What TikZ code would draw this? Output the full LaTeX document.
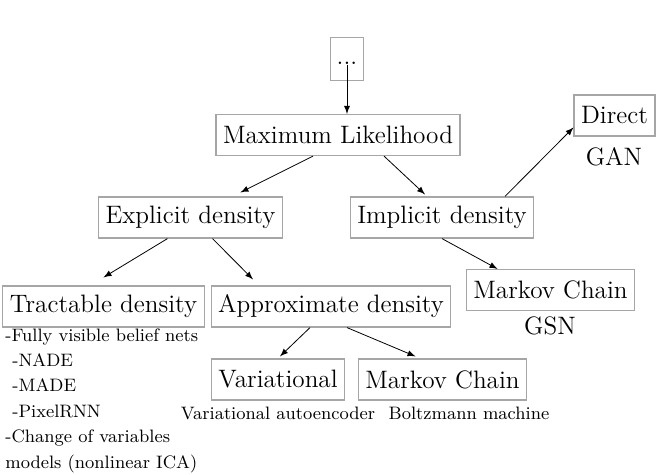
\documentclass[tikz,border=0pt]{standalone}
\usepackage{tikz}
\usetikzlibrary{arrows}
\newcommand{\boxschrift}{\fontsize{12.6}{15}\selectfont}

\begin{document}
\begin{tikzpicture}[
  x=0.5pt, y=-0.5pt,
  > = latex,
  box/.style = {draw=gray!70, line width=0.6pt, font=\boxschrift, minimum height=20.5pt, inner xsep=3.5pt},
  note/.style = {font=\boxschrift, inner sep=0pt},
  smallnote/.style = {font=\small, inner sep=0pt},
  notelist/.style = {font={\small\setlength{\baselineskip}{12.7pt}}, align=left, anchor=north west, inner sep=0pt}
  ]
	\useasboundingbox (0,0) rectangle (661,475);

	\node[box,inner xsep=3.2pt] (dots) at (347,59) {\strut...};
	\node[box] (ml) at (338,135) {Maximum Likelihood};
	\node[box] (explicit) at (190.5,217.5) {Explicit density};
	\node[box] (implicit) at (442,217.5) {Implicit density};
	\node[box] (direct) at (614.5,115.5) {Direct};
	\node[note] (gan) at (614,157) {GAN};
	\node[box] (mcgsn) at (550.5,290) {Markov Chain};
	\node[note] (gsn) at (550,326) {GSN};
	\node[box] (tractable) at (103.5,306.5) {Tractable density};
	\node[box] (approx) at (331,306.5) {Approximate density};
	\node[box] (variational) at (278,379.5) {Variational};
	\node[box] (mcboltz) at (442.5,379.5) {Markov Chain};
	\node[smallnote] (vae) at (278,413) {Variational autoencoder};
	\node[smallnote] (boltz) at (469,413) {Boltzmann machine};
	\node[notelist] (tractlist) at (5,328) {-Fully visible belief nets\\
		\hspace*{3.5pt}-NADE\\
		\hspace*{3.5pt}-MADE\\
		\hspace*{3.5pt}-PixelRNN\\
		-Change of variables\\
		models (nonlinear ICA)};

	\draw[->] (dots.base) -- (dots.base |- ml.north);
	\draw[->] ([xshift=-12.5pt]ml.south) -- ([xshift=25pt,yshift=2pt]explicit.north);
	\draw[->] ([xshift=23pt]ml.south) -- ([xshift=-8.5pt,yshift=1pt]implicit.north);
	\draw[->] ([xshift=-11.5pt]explicit.south) -- ([yshift=4pt]tractable.north);
	\draw[->] ([xshift=11pt]explicit.south) -- ([xshift=-39pt,yshift=3pt]approx.north);
	\draw[->] ([xshift=31.5pt]implicit.north) -- ([yshift=-6pt]direct.west);
	\draw[->] (implicit.south) -- ([xshift=-26.5pt]mcgsn.north);
	\draw[->] ([xshift=-10.5pt]approx.south) -- ([xshift=1pt,yshift=1pt]variational.north);
	\draw[->] ([xshift=8pt]approx.south) -- ([xshift=-13.5pt,yshift=1pt]mcboltz.north);

\end{tikzpicture}
\end{document}
